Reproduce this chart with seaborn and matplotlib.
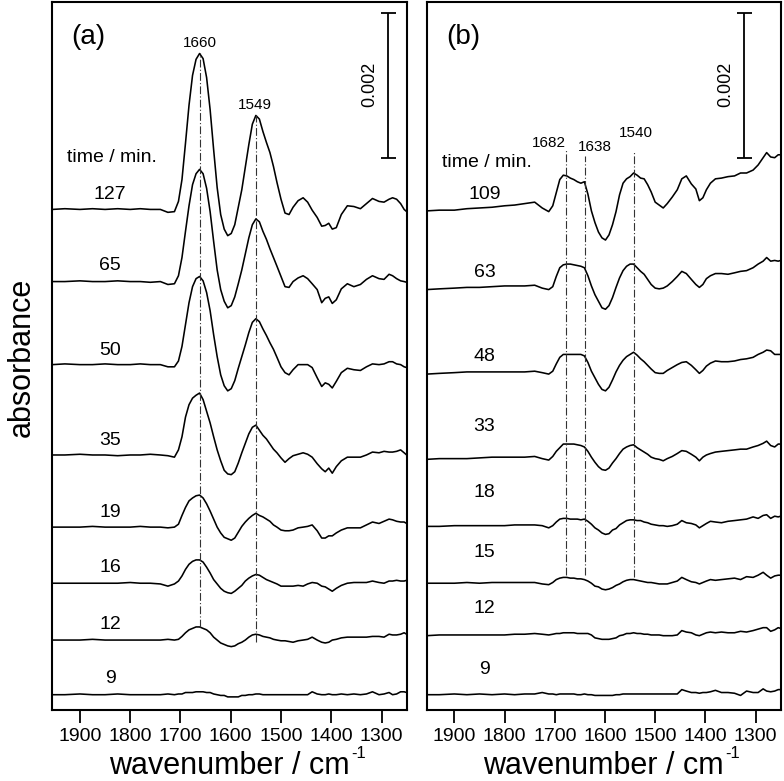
import matplotlib
matplotlib.use("Agg")
import matplotlib.pyplot as plt
import pandas as pd
import seaborn as sns

# absorbance values are in units of 1e-5
UNIT = 1e-5

wavenumber = [1955, 1930, 1900, 1875, 1850, 1825, 1800, 1780, 1760, 1740,
              1725, 1712, 1704, 1697, 1690, 1683, 1676, 1669, 1662, 1655,
              1648, 1641, 1634, 1627, 1620, 1613, 1606, 1599, 1592, 1585,
              1578, 1571, 1564, 1557, 1550, 1543, 1536, 1529, 1522, 1515,
              1508, 1500, 1492, 1484, 1476, 1466, 1456, 1447, 1438, 1428,
              1419, 1412, 1405, 1398, 1390, 1380, 1368, 1355, 1342, 1330,
              1318, 1305, 1295, 1285, 1278, 1270, 1262, 1255, 1250]

# panel (a)
times_a = [127, 65, 50, 35, 19, 16, 12, 9]
a_127 = [0, 1, 0, 1, 0, 1, 0, 1, 0, 0, -4, -3, 11, 41, 91, 143, 184, 206, 214, 207,
         181, 137, 82, 30, -7, -27, -36, -33, -21, 3, 27, 58, 89, 117, 129, 124, 107, 92, 78, 59,
         37, 14, -5, -7, 3, 12, 16, 10, -1, -11, -23, -22, -19, -27, -25, -7, 5, 4, 1, 8,
         15, 11, 10, 14, 16, 14, 8, 0, -3]
a_65 = [0, 0, 1, 0, 0, 1, 0, 0, -1, 0, -4, -3, 8, 33, 69, 104, 133, 148, 154, 148,
        128, 96, 55, 16, -11, -27, -36, -33, -21, -3, 16, 38, 60, 78, 86, 82, 69, 58, 45, 33,
        21, 7, -7, -8, 0, 5, 8, 4, -3, -11, -29, -23, -21, -30, -25, -10, -3, -7, -4, 3,
        8, 4, 3, 10, 8, 4, 1, 0, -1]
a_50 = [0, 1, 0, 0, 1, 0, 0, 1, 0, 0, -3, -3, 5, 25, 55, 85, 107, 118, 121, 115,
        99, 74, 41, 11, -14, -29, -36, -33, -22, -5, 11, 27, 44, 58, 63, 59, 49, 40, 30, 21,
        10, -3, -11, -14, -7, 0, 0, 0, -4, -18, -30, -25, -27, -32, -23, -11, -5, -7, -8, -3,
        1, 0, 1, 4, 4, 1, 0, -3, -4]
a_35 = [0, 0, 1, 0, 0, -1, 0, 0, 1, 0, -1, -3, 7, 25, 52, 69, 78, 82, 85, 76,
        60, 44, 25, 7, -8, -21, -26, -27, -23, -11, 3, 16, 29, 38, 41, 34, 27, 22, 15, 8,
        3, -4, -10, -5, -1, 1, 3, 1, -3, -12, -19, -23, -18, -25, -16, -8, -3, -3, -3, 0,
        4, 3, 5, 4, 4, 5, 7, 3, 0]
a_19 = [0, 0, 0, 1, 0, 0, 0, 1, 0, 0, -1, 0, 4, 16, 27, 36, 40, 43, 44, 40,
        32, 22, 11, 0, -8, -14, -16, -18, -15, -7, 1, 7, 12, 16, 19, 16, 14, 11, 8, 3,
        0, -4, -5, -5, -4, -1, 0, 1, 3, -5, -15, -15, -12, -12, -8, -4, -1, -1, -1, 3,
        7, 5, 8, 11, 10, 8, 7, 7, 5]
a_16 = [0, 0, 0, 0, 0, 0, 1, 0, 0, -1, -4, -1, 3, 10, 19, 26, 30, 32, 32, 29,
        22, 14, 5, -1, -7, -11, -13, -14, -11, -7, -3, 3, 7, 10, 12, 11, 8, 5, 3, 1,
        -1, -4, -4, -4, -4, -3, -4, -1, 1, 0, -4, -5, -8, -11, -7, -3, 0, 1, 1, 1,
        3, 1, 0, 3, 3, 4, 3, 3, 4]
a_12 = [0, 0, 0, 1, 0, 0, 0, 0, 0, 0, 1, 0, 1, 5, 10, 14, 16, 18, 18, 16,
        14, 10, 4, 0, -4, -6, -8, -9, -8, -5, -3, 0, 4, 7, 8, 7, 5, 4, 3, 1,
        0, -1, -1, -2, -3, -1, 0, 1, 4, 0, -3, -4, -3, 0, 1, 3, 4, 4, 4, 4,
        5, 5, 4, 8, 7, 7, 8, 10, 8]
a_9 = [0, 0, 1, 0, 0, 1, 0, 0, 0, 0, 1, 0, 1, 1, 3, 3, 3, 4, 4, 4,
       3, 3, 1, 0, -1, -1, -3, -3, -3, -3, -1, -1, 0, 0, 1, 1, 0, 0, 0, 0,
       0, 0, 0, 0, 0, 0, 0, 0, 4, 1, 0, 0, 1, 0, 0, 1, 0, 1, 0, 1,
       4, 0, 1, 3, 0, 1, 4, 4, 3]
spectra_a = [a_127, a_65, a_50, a_35, a_19, a_16, a_12, a_9]
offset_a = [687, 588, 474, 350, 251, 174, 96, 21]

# panel (b)
times_b = [109, 63, 48, 33, 18, 15, 12, 9]
b_109 = [0, 1, 1, 3, 4, 5, 7, 8, 10, 12, 4, -1, 7, 25, 43, 49, 48, 45, 43, 40,
         38, 40, 23, 0, -16, -29, -37, -40, -33, -19, -1, 22, 38, 44, 47, 52, 49, 45, 44, 36,
         26, 12, 8, 4, 10, 19, 29, 44, 48, 37, 30, 14, 18, 29, 38, 44, 45, 47, 48, 52,
         52, 56, 63, 73, 80, 74, 73, 77, 77]
b_63 = [0, 1, 2, 3, 3, 4, 5, 5, 5, 6, 2, 0, 4, 18, 30, 34, 35, 35, 34, 33,
        32, 30, 19, 5, -7, -16, -25, -27, -22, -11, 3, 16, 26, 32, 35, 35, 30, 25, 21, 14,
        7, 2, 1, 2, 5, 11, 18, 25, 22, 14, 7, 3, 7, 15, 19, 22, 22, 21, 23, 25,
        26, 30, 35, 39, 44, 39, 40, 39, 40]
b_48 = [0, 1, 2, 3, 3, 3, 3, 3, 3, 4, 2, 0, 4, 14, 23, 27, 27, 27, 27, 27,
        27, 25, 16, 4, -5, -14, -21, -23, -18, -8, 3, 12, 19, 24, 27, 30, 26, 21, 17, 12,
        7, 2, 1, 1, 5, 9, 13, 16, 17, 12, 6, 1, 5, 11, 15, 18, 17, 17, 18, 20,
        21, 23, 27, 30, 33, 32, 27, 27, 27]
b_33 = [0, 1, 1, 1, 2, 3, 3, 3, 3, 4, 1, -1, 4, 11, 16, 21, 21, 21, 21, 20,
        19, 17, 11, 3, -4, -10, -14, -15, -12, -5, 1, 8, 14, 17, 19, 20, 16, 13, 10, 7,
        3, 1, 0, -2, 1, 4, 8, 12, 11, 7, 3, -2, 3, 6, 8, 10, 11, 12, 13, 14,
        14, 17, 19, 22, 25, 19, 17, 21, 21]
b_18 = [0, 0, 1, 1, 1, 1, 1, 2, 2, 2, 1, -2, 1, 6, 10, 11, 11, 10, 10, 10,
        9, 10, 7, 3, -2, -5, -9, -11, -10, -5, -3, 2, 5, 8, 9, 9, 8, 8, 6, 5,
        3, 2, 1, 1, 0, 1, 3, 8, 5, 4, 2, -2, 1, 4, 7, 6, 5, 7, 8, 9,
        10, 13, 11, 15, 16, 11, 14, 13, 14]
b_15 = [0, 0, 0, 1, 0, 1, 1, 1, 1, 1, -1, -2, 1, 5, 7, 8, 8, 7, 7, 6,
        6, 5, 3, 0, -4, -5, -8, -9, -8, -6, -3, -1, 2, 4, 5, 5, 4, 3, 2, 1,
        1, 0, -1, -1, -1, 1, 3, 8, 5, 2, 1, -1, 1, 3, 5, 4, 5, 6, 7, 5,
        9, 8, 11, 15, 11, 7, 10, 11, 11]
b_12 = [0, 1, 1, 1, 1, 1, 1, 2, 2, 3, 2, 1, 2, 3, 3, 4, 4, 4, 4, 3,
        3, 3, 3, 1, -3, -4, -5, -5, -5, -4, -3, 0, 1, 3, 3, 4, 3, 3, 2, 2,
        1, 1, 1, 0, 0, 0, 1, 7, 5, 4, 1, 0, 2, 4, 5, 4, 5, 4, 4, 6,
        5, 7, 9, 11, 11, 6, 8, 11, 10]
b_9 = [0, 0, 1, 0, 1, 0, 1, 0, 1, 1, 3, 1, 1, 0, 1, 1, 1, 1, 1, 0,
       0, 1, 0, 0, -1, -1, -1, -1, -1, -1, 0, 0, 1, 1, 1, 1, 1, 1, 1, 1,
       1, 1, 1, 1, 1, 1, 1, 7, 5, 3, 3, 2, 3, 3, 4, 6, 3, 3, 2, -1,
       5, 3, 3, 8, 5, 4, 5, 7, 7]
spectra_b = [b_109, b_63, b_48, b_33, b_18, b_15, b_12, b_9]
offset_b = [685, 577, 461, 344, 252, 174, 102, 21]

# marked bands: label text, label position, line position and extent
bands_a = [("1660", 1662, 916, 1661, 114, 902),
           ("1549", 1552, 831, 1550, 93, 817)]
bands_b = [("1682", 1712, 778, 1677, 185, 769),
           ("1638", 1621, 773, 1639, 185, 760),
           ("1540", 1539, 792, 1543, 183, 767)]

label_y_a = [707, 610, 493, 370, 271, 196, 117, 43]
label_y_b = [708, 600, 485, 389, 298, 216, 139, 55]


def to_frame(times, spectra, offsets):
    rows = []
    for t, spec, off in zip(times, spectra, offsets):
        for wn, v in zip(wavenumber, spec):
            rows.append({"time": t, "wavenumber": wn, "absorbance": (v + off) * UNIT})
    return pd.DataFrame(rows)


def draw_panel(ax, df, times, label_y, bands, tag, header_y, bar_x, bar_label_x):
    sns.lineplot(data=df, x="wavenumber", y="absorbance", units="time", estimator=None,
                 sort=False, color="black", linewidth=1.15, legend=False, ax=ax)
    for t, y in zip(times, label_y):
        ax.text(1840, y * UNIT, str(t), ha="center", va="center", fontsize=14)
    ax.text(1836, header_y * UNIT, "time / min.", ha="center", va="center", fontsize=14)
    for text, tx, ty, lx, y0, y1 in bands:
        ax.vlines(lx, y0 * UNIT, y1 * UNIT, colors="0.2", linewidth=0.8,
                  linestyles=(0, (7, 2, 1, 2)))
        ax.text(tx, ty * UNIT, text, ha="center", va="center", fontsize=11)
    # 0.002 scale bar
    ax.errorbar(bar_x, 857 * UNIT, yerr=100 * UNIT, fmt="none", ecolor="black",
                elinewidth=1.3, capsize=5.4, capthick=1.3)
    ax.text(bar_label_x, 858 * UNIT, "0.002", rotation=90, ha="center", va="center",
            fontsize=13)
    ax.text(1883, 924 * UNIT, tag, ha="center", va="center", fontsize=20)

    ax.set_xlim(1955, 1250)
    ax.set_ylim(0, 971 * UNIT)
    ax.set_xticks(list(range(1900, 1250, -100)))
    ax.set_yticks([])
    ax.set_ylabel("")
    ax.set_xlabel("wavenumber / cm", fontsize=22, labelpad=4)
    ax.annotate("-1", xy=(1, 1), xycoords=ax.xaxis.label, xytext=(1, 3),
                textcoords="offset points", ha="left", va="top", fontsize=12)
    ax.tick_params(axis="x", direction="out", length=9, width=1.3, labelsize=14, pad=4,
                   color="black", labelcolor="black")
    for spine in ax.spines.values():
        spine.set_visible(True)
        spine.set_linewidth(1.5)
        spine.set_color("black")


def main() -> None:
    sns.set_style("ticks")
    plt.rcParams["font.family"] = ["Liberation Sans", "DejaVu Sans"]
    plt.rcParams["text.color"] = "black"
    plt.rcParams["axes.labelcolor"] = "black"

    df_a = to_frame(times_a, spectra_a, offset_a)
    df_b = to_frame(times_b, spectra_b, offset_b)

    fig = plt.figure(figsize=(7.84, 7.81), dpi=100)
    ax_a = fig.add_axes([0.0667, 0.0909, 0.452, 0.9059])
    ax_b = fig.add_axes([0.5443, 0.0909, 0.4515, 0.9059])

    draw_panel(ax_a, df_a, times_a, label_y_a, bands_a, "(a)", 758, 1288, 1323)
    draw_panel(ax_b, df_b, times_b, label_y_b, bands_b, "(b)", 751, 1323, 1360)

    fig.text(0.028, 0.543, "absorbance", rotation=90, ha="center", va="center", fontsize=22)
    fig.savefig("out.png", dpi=100)
    plt.close(fig)


if __name__ == "__main__":
    main()
